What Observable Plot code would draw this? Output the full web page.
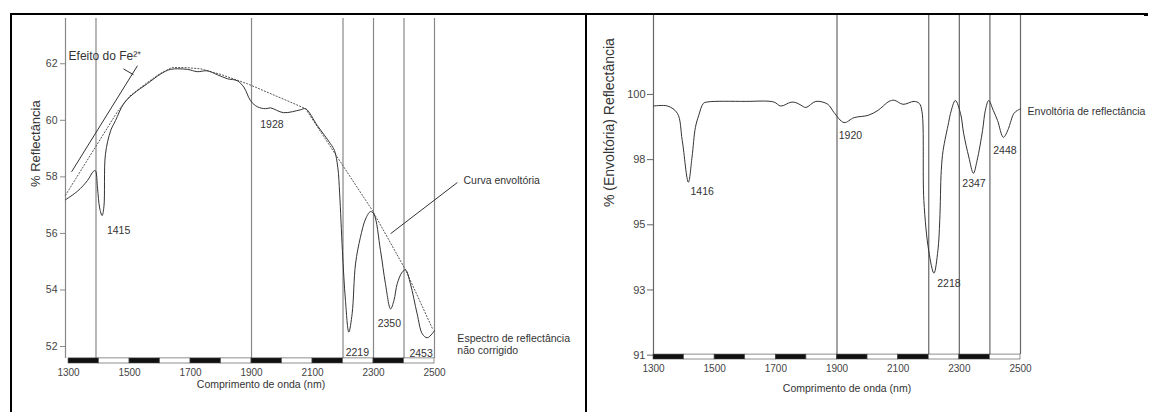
<!DOCTYPE html>
<html><head><meta charset="utf-8">
<script src="https://cdn.jsdelivr.net/npm/d3@7"></script>
<script src="https://cdn.jsdelivr.net/npm/@observablehq/plot@0.6"></script>
<style>
body{margin:0;background:#fff;}
#wrap{position:relative;width:1149px;height:412px;overflow:hidden;font-family:"Liberation Sans",Arial,sans-serif;}
#left{position:absolute;left:0;top:0;}
#right{position:absolute;left:590px;top:0;}
.b{position:absolute;background:#000;}
</style></head><body>
<div id="wrap">
<div id="left"></div><div id="right"></div>
<div class="b" style="left:10px;top:13px;width:577px;height:2px"></div>
<div class="b" style="left:10px;top:13px;width:2px;height:399px"></div>
<div class="b" style="left:585px;top:13px;width:2px;height:399px"></div>
<div class="b" style="left:587px;top:13px;width:558px;height:2px"></div>
<div class="b" style="left:1144px;top:13px;width:4px;height:3px"></div>
</div>
<script>
// ---------- shared ----------
const wavelengthTicks = [1300, 1500, 1700, 1900, 2100, 2300, 2500];
const scaleBarEdges = [1300, 1400, 1500, 1600, 1700, 1800, 1900, 2000, 2100, 2200, 2300, 2400, 2500];
const xTitle = "Comprimento de onda (nm)";

// ---------- left chart: uncorrected reflectance ----------
const leftWavelength = [1290, 1330, 1362, 1382, 1388, 1395, 1402, 1410, 1416, 1421, 1438, 1454, 1481, 1513, 1559, 1601, 1634, 1690, 1722, 1755, 1788, 1821, 1853, 1875, 1897, 1919, 1946, 1962, 2005, 2060, 2077, 2116, 2159, 2172, 2183, 2189, 2198, 2208, 2219, 2230, 2241, 2257, 2274, 2290, 2301, 2323, 2339, 2356, 2367, 2378, 2394, 2405, 2421, 2443, 2460, 2476, 2492, 2500];
const leftReflectance = [57.19, 57.5, 57.87, 58.2, 58.22, 57.6, 56.9, 56.63, 56.95, 58.8, 59.63, 59.99, 60.59, 60.94, 61.3, 61.63, 61.8, 61.8, 61.72, 61.75, 61.61, 61.47, 61.4, 61.17, 60.69, 60.48, 60.41, 60.44, 60.27, 60.37, 60.41, 59.81, 59.17, 58.93, 58.33, 57.4, 55.39, 53.63, 52.51, 53.17, 54.92, 55.86, 56.51, 56.77, 56.69, 55.39, 54.23, 53.33, 53.63, 54.23, 54.63, 54.71, 54.22, 53.16, 52.45, 52.31, 52.45, 52.57];
const leftHullWavelength = [1290, 1388, 1460, 1500, 1560, 1600, 1640, 1690, 1733, 1800, 1887, 2037, 2077, 2169, 2297, 2405, 2493];
const leftHullReflectance = [57.35, 59.05, 60.3, 60.85, 61.35, 61.65, 61.87, 61.86, 61.82, 61.62, 61.29, 60.6, 60.41, 58.9, 56.8, 54.71, 52.64];
const leftFrameLines = [1290, 1390, 1900, 2200, 2300, 2400, 2500];
const leftYTicks = [52, 54, 56, 58, 60, 62];
const leftBandLabels = ["1415", "1928", "2219", "2350", "2453"];
const leftBandLabelX = [1464, 1967, 2247, 2352, 2456];
const leftBandLabelY = [56.1, 59.84, 51.79, 52.81, 51.75];

// ---------- right chart: continuum removed ----------
const rightWavelength = [1300, 1346, 1378, 1394, 1414, 1426, 1437, 1448, 1463, 1476, 1600, 1693, 1716, 1749, 1765, 1782, 1798, 1831, 1870, 1890, 1923, 1956, 2002, 2034, 2070, 2087, 2116, 2152, 2169, 2178, 2184, 2200, 2217, 2230, 2236, 2241, 2247, 2265, 2271, 2287, 2304, 2314, 2331, 2346, 2358, 2376, 2385, 2396, 2411, 2425, 2444, 2461, 2467, 2478, 2490, 2500];
const rightReflectance = [99.6, 99.6, 99.35, 98.41, 96.97, 97.84, 98.86, 99.28, 99.69, 99.74, 99.76, 99.74, 99.6, 99.73, 99.72, 99.63, 99.55, 99.76, 99.66, 99.38, 99.03, 99.2, 99.28, 99.45, 99.76, 99.8, 99.66, 99.76, 99.69, 99.4, 96.34, 94.6, 93.83, 94.62, 95.66, 97.38, 98.07, 99.03, 99.34, 99.79, 99.34, 98.66, 97.84, 97.28, 97.72, 98.76, 99.45, 99.79, 99.45, 99.1, 98.52, 98.83, 99.03, 99.34, 99.45, 99.5];
const rightFrameLines = [1300, 1900, 2200, 2300, 2400, 2500];
const rightYTicks = [91, 93.25, 95.5, 97.75, 100];
const rightYTickLabels = ["91", "93", "95", "98", "100"];
const rightBandLabels = ["1416", "1920", "2218", "2347", "2448"];
const rightBandLabelX = [1459, 1944, 2266, 2348, 2449];
const rightBandLabelY = [96.66, 98.59, 93.48, 96.93, 98.07];

const FONT = "Liberation Sans, Arial, sans-serif";
const ink = "#333";
const fmtInt = d3.format("d");

function scaleBar(y0, y1) {
  const segs = d3.pairs(scaleBarEdges).map(([a, b], i) => ({a, b, k: i % 2 ? "#fff" : "#111"}));
  return Plot.rect(segs, {x1: "a", x2: "b", y1: y0, y2: y1, fill: "k", stroke: "#444", strokeWidth: 0.6});
}

// ----- left -----
const lDom = [51.4, 63.6];
const lBarTop = 51.58;
const leftCurve = leftWavelength.map((w, i) => ({w, r: leftReflectance[i]}));
const leftHull = leftHullWavelength.map((w, i) => ({w, r: leftHullReflectance[i]}));
const leftLabels = leftBandLabels.map((t, i) => ({t, x: leftBandLabelX[i], y: leftBandLabelY[i]}));

const leftPlot = Plot.plot({
  width: 590, height: 412,
  marginLeft: 65, marginRight: 156, marginTop: 18, marginBottom: 49,
  x: {domain: [1290, 2500]},
  y: {domain: lDom},
  style: {fontFamily: FONT, background: "transparent", color: ink},
  marks: [
    Plot.ruleX(leftFrameLines, {y1: lBarTop, y2: lDom[1], stroke: "#888", strokeWidth: 1.2}),
    scaleBar(lDom[0], lBarTop),
    Plot.line(leftHull, {x: "w", y: "r", stroke: "#555", strokeWidth: 1, strokeDasharray: "1.2,2"}),
    Plot.line(leftCurve, {x: "w", y: "r", stroke: "#333", strokeWidth: 1, curve: "catmull-rom"}),
    Plot.axisY({ticks: leftYTicks, tickSize: 5, tickPadding: 3, fontSize: 10.5, label: null, stroke: "#888", fill: "#444"}),
    Plot.axisX({ticks: wavelengthTicks, tickFormat: fmtInt, tickSize: 0, tickPadding: 5, fontSize: 10, label: null, fill: "#444"}),
    Plot.text([xTitle], {frameAnchor: "bottom", dy: 24, dx: 11, fontSize: 10.5, fill: ink}),
    Plot.text(["% Reflectância"], {frameAnchor: "left", rotate: -90, dx: -30, dy: -4, fontSize: 13, fill: ink}),
    Plot.text(leftLabels, {x: "x", y: "y", text: "t", fontSize: 10.5, fill: ink}),
    Plot.text(["Efeito do Fe²⁺"], {x: 1300, y: 62.28, textAnchor: "start", fontSize: 12, fill: ink}),
    Plot.link([{x1: 1310, y1: 58.18, x2: 1526, y2: 61.93}, {x1: 1480, y1: 61.82, x2: 1513, y2: 61.61}],
      {x1: "x1", y1: "y1", x2: "x2", y2: "y2", stroke: "#333", strokeWidth: 1}),
    Plot.text(["Curva envoltória"], {x: 2595, y: 57.87, textAnchor: "start", fontSize: 10.5, fill: ink}),
    Plot.link([{x1: 2356, y1: 55.99, x2: 2575, y2: 57.8}],
      {x1: "x1", y1: "y1", x2: "x2", y2: "y2", stroke: "#333", strokeWidth: 1}),
    Plot.text(["Espectro de reflectância\nnão corrigido"], {x: 2575, y: 52.07, textAnchor: "start", lineHeight: 1.14, fontSize: 10.5, fill: ink})
  ]
});
document.getElementById("left").append(leftPlot);

// ----- right -----
const rDom = [90.85, 102.76];
const rBarTop = 91.02;
const rightCurve = rightWavelength.map((w, i) => ({w, r: rightReflectance[i]}));
const rightLabels = rightBandLabels.map((t, i) => ({t, x: rightBandLabelX[i], y: rightBandLabelY[i]}));

const rightPlot = Plot.plot({
  width: 559, height: 412,
  marginLeft: 63, marginRight: 129, marginTop: 14, marginBottom: 53,
  x: {domain: [1300, 2500]},
  y: {domain: rDom},
  style: {fontFamily: FONT, background: "transparent", color: ink},
  marks: [
    Plot.ruleX(rightFrameLines, {y1: rBarTop, y2: rDom[1], stroke: "#666", strokeWidth: 1.2}),
    scaleBar(rDom[0], rBarTop),
    Plot.line(rightCurve, {x: "w", y: "r", stroke: "#333", strokeWidth: 1, curve: "catmull-rom"}),
    Plot.axisY({ticks: rightYTicks, tickFormat: (d) => rightYTickLabels[rightYTicks.indexOf(d)], tickSize: 6, tickPadding: 2, fontSize: 11, label: null, stroke: "#666", fill: "#444"}),
    Plot.axisX({ticks: wavelengthTicks, tickFormat: fmtInt, tickSize: 0, tickPadding: 5, fontSize: 10, label: null, fill: "#444"}),
    Plot.text([xTitle], {frameAnchor: "bottom", dy: 32, dx: 10, fontSize: 10.5, fill: ink}),
    Plot.text(["% (Envoltória) Reflectância"], {frameAnchor: "left", rotate: -90, dx: -44, dy: 20, fontSize: 14, fill: ink}),
    Plot.text(rightLabels, {x: "x", y: "y", text: "t", fontSize: 10.5, fill: ink}),
    Plot.text(["Envoltória de reflectância"], {x: 2523, y: 99.41, textAnchor: "start", fontSize: 10.5, fill: ink})
  ]
});
document.getElementById("right").append(rightPlot);
</script>
</body></html>
